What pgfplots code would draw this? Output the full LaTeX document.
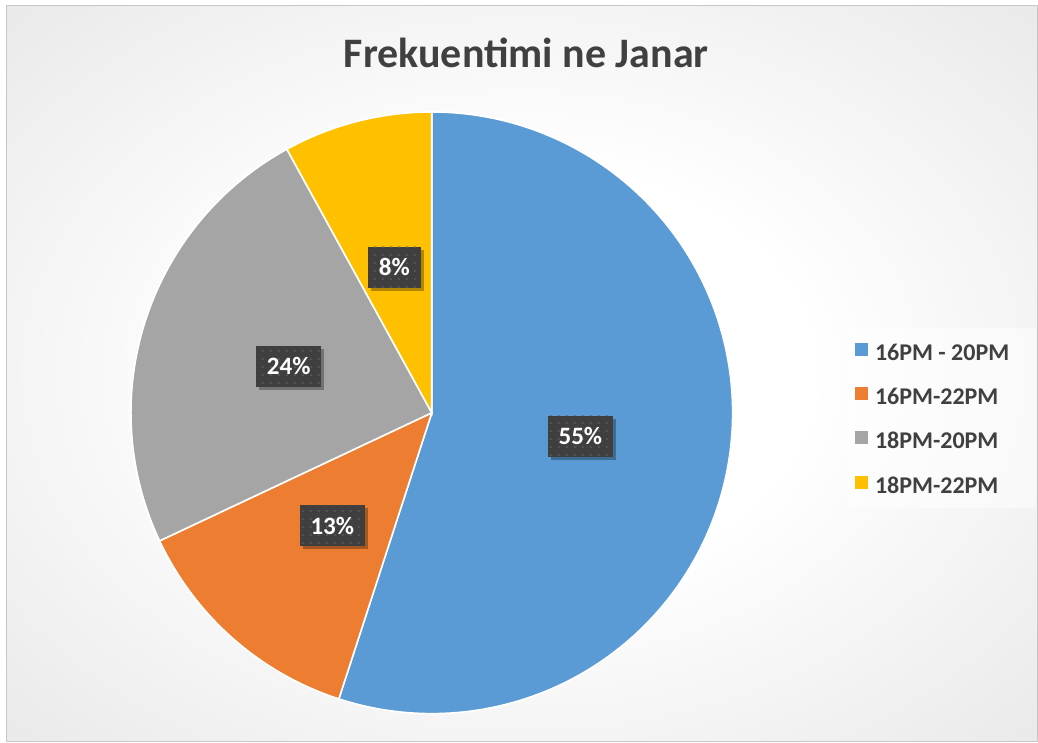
\documentclass[border=0pt]{standalone}
\usepackage{pgfplots}
\pgfplotsset{compat=1.18}
\usepgfplotslibrary{polar}
\usetikzlibrary{shadows,patterns.meta}
\usepackage{fontspec}
\setmainfont{Carlito}
\definecolor{cA}{HTML}{5B9BD5}
\definecolor{cB}{HTML}{ED7D31}
\definecolor{cC}{HTML}{A5A5A5}
\definecolor{cD}{HTML}{FFC000}
\definecolor{txt}{HTML}{404040}
\definecolor{lblbg}{HTML}{3F3F3F}
\pgfdeclareradialshading{bgshade}{\pgfpoint{0bp}{0bp}}{color(0bp)=(white); color(14bp)=(white); color(72bp)=(black!23)}
% shares in percent
\def\pA{55}\def\pB{13}\def\pC{24}\def\pD{8}
\pgfmathsetmacro\aA{90-3.6*\pA}
\pgfmathsetmacro\aB{\aA-3.6*\pB}
\pgfmathsetmacro\aC{\aB-3.6*\pC}
\pgfmathsetmacro\aD{\aC-3.6*\pD}
\pgfmathsetmacro\mA{(90+\aA)/2}
\pgfmathsetmacro\mB{(\aA+\aB)/2}
\pgfmathsetmacro\mC{(\aB+\aC)/2}
\pgfmathsetmacro\mD{(\aC+\aD)/2}
\tikzset{lbl/.style={fill=lblbg, text=white, font=\fontsize{12.5}{13}\selectfont\bfseries,
    inner xsep=5.5pt, minimum height=20.5pt,
    drop shadow={shadow xshift=1.5pt, shadow yshift=-1.5pt, opacity=0.3, fill=black},
    postaction={pattern={Dots[distance=4pt,radius=0.5pt]}, pattern color=black!62}}}
\begin{document}
\begin{tikzpicture}
\fill[white] (0pt,0pt) rectangle (519pt,371pt);
\shade[shading=bgshade] (3.5pt,0pt) rectangle (519pt,368pt);
\draw[black!22, line width=0.5pt] (3.5pt,0pt) rectangle (519pt,368pt);
\fill[white, opacity=0.5] (424pt,117pt) rectangle (518pt,207pt);
\node[font=\fontsize{21}{25}\selectfont\bfseries, text=txt] at (263.3pt,344.5pt) {Frekuentimi ne Janar};
\begin{polaraxis}[
  hide axis, scale only axis, width=301pt, height=301pt,
  ymin=0, ymax=1, clip=false,
  at={(216pt,164.5pt)}, anchor=center,
  legend cell align=left,
  legend image code/.code={\fill[#1, draw=none] (0pt,-1.55pt) rectangle (6.5pt,4.95pt);},
  legend style={draw=none, fill=none, inner sep=0pt, at={(1.2027,0.4914)}, anchor=west,
    font=\fontsize{12}{13}\selectfont\bfseries, text=txt, column sep=3.5pt, row sep=13.4pt,
    nodes={inner sep=0pt, text height=7.6pt, text depth=0pt}},
]
\addplot[fill=cA, draw=white, line width=0.8pt, domain=\aA:90, samples=150] {1} -- (axis cs:0,0) -- cycle;
\addlegendentry{16PM - 20PM}
\addplot[fill=cB, draw=white, line width=0.8pt, domain=\aB:\aA, samples=60] {1} -- (axis cs:0,0) -- cycle;
\addlegendentry{16PM-22PM}
\addplot[fill=cC, draw=white, line width=0.8pt, domain=\aC:\aB, samples=90] {1} -- (axis cs:0,0) -- cycle;
\addlegendentry{18PM-20PM}
\addplot[fill=cD, draw=white, line width=0.8pt, domain=\aD:\aC, samples=40] {1} -- (axis cs:0,0) -- cycle;
\addlegendentry{18PM-22PM}
\node[lbl] at (axis cs:\mA,0.5) {\pA\%};
\node[lbl] at (axis cs:\mB,0.5) {\pB\%};
\node[lbl] at (axis cs:\mC,0.5) {\pC\%};
\node[lbl] at (axis cs:\mD,0.5) {\pD\%};
\end{polaraxis}
\end{tikzpicture}
\end{document}
